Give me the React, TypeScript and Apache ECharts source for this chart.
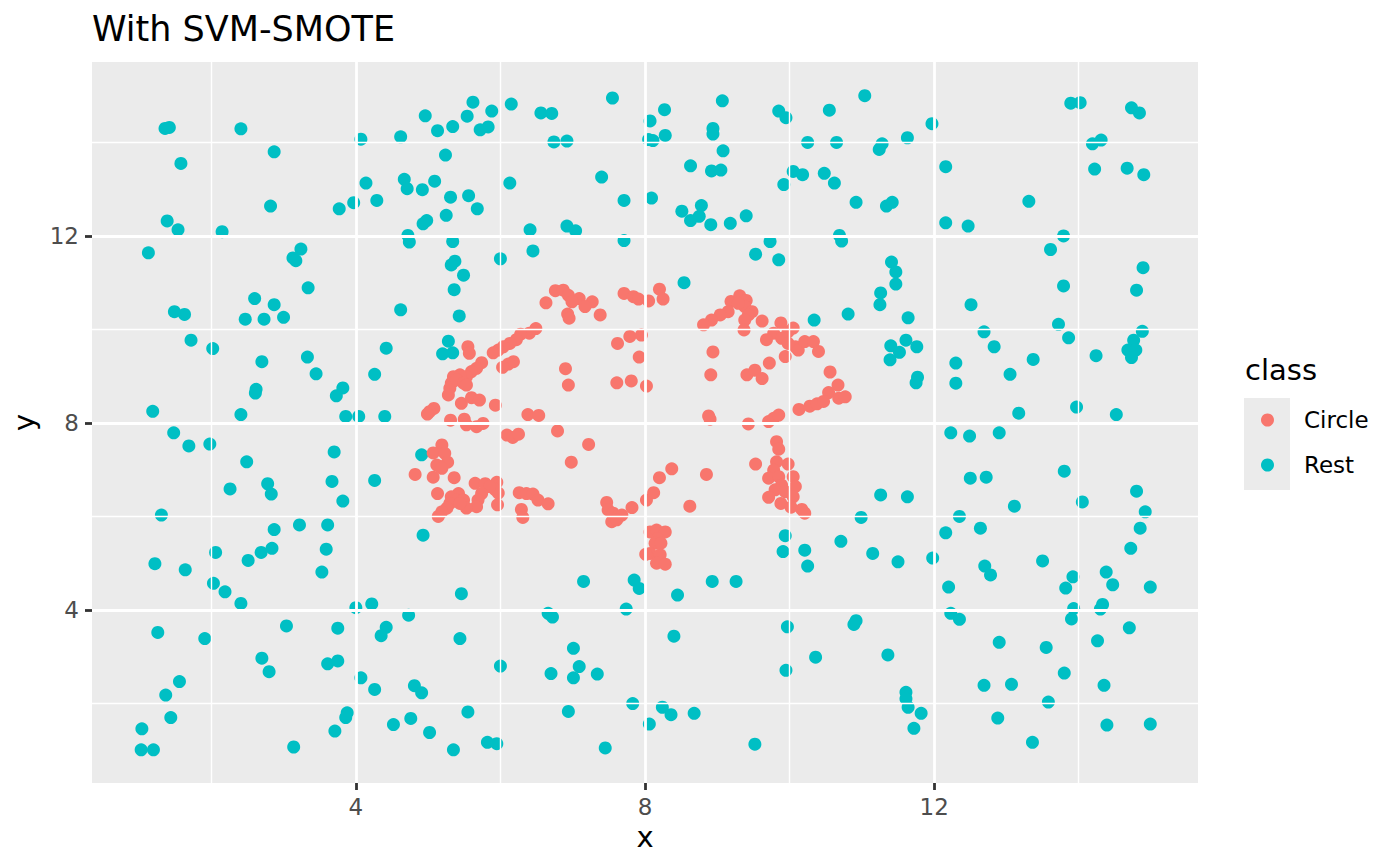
import React, { useEffect, useRef } from "react";
import * as echarts from "echarts";

const classNames = ["Circle", "Rest"];
const classColors = ["#F8766D", "#00BFC4"];
const xTicks = [4, 8, 12];
const yTicks = [4, 8, 12];
const xMinor = [2, 6, 10, 14];
const yMinor = [2, 6, 10, 14];
const xRange = [0.35, 15.65];
const yRange = [0.3, 15.72];

const circlePoints: [number, number][] = [
  [6.76,10.83],[6.87,10.84],[6.94,10.73],[7.09,10.66],[7.27,10.59],[6.63,10.57],[6.99,10.59],[7.17,10.49],[6.93,10.33],[6.95,10.24],[7.38,10.31],[7.71,10.77],[7.84,10.70],[7.91,10.65],[8.05,10.61],[8.20,10.86],[8.25,10.65],[9.19,10.60],[9.31,10.72],[9.40,10.62],[9.38,10.49],[9.48,10.38],[9.43,10.31],[9.38,10.20],[9.37,9.99],[9.15,10.38],[9.04,10.31],[8.92,10.20],[8.81,10.10],[9.29,10.56],
  [6.49,10.02],[6.40,9.92],[6.28,9.90],[6.22,9.78],[6.13,9.70],[6.04,9.63],[5.97,9.56],[5.90,9.50],[5.55,9.63],[5.57,9.49],[6.18,9.31],[6.11,9.26],[6.03,9.19],[5.74,9.29],[5.67,9.17],[5.60,9.10],[5.53,8.99],[5.44,9.03],[5.35,8.99],[5.32,8.85],[5.30,8.74],[5.28,8.60],[5.39,8.92],[5.49,8.85],[5.53,8.81],[5.46,8.42],[5.60,8.54],[5.71,8.49],[5.93,8.38],[5.08,8.31],[5.02,8.24],[4.99,8.19],[5.31,8.06],[5.50,8.08],[5.53,7.96],[5.67,7.92],[5.76,7.99],[6.38,8.18],[6.53,8.16],[6.90,9.16],[6.94,8.81],[7.62,9.70],[7.79,9.85],[7.95,9.88],[7.92,9.41],[7.61,8.86],[7.81,8.90],[8.02,8.79],[6.79,7.83],[7.22,7.54],[6.98,7.16],[6.09,7.74],[6.17,7.69],[6.25,7.76],[5.19,7.53],[5.07,7.36],[5.23,7.35],[5.27,7.16],[5.16,7.07],[5.12,7.10],[5.19,7.03],[4.82,6.90],[5.07,6.84],[5.36,6.83],[5.13,6.49],[5.65,6.71],[5.79,6.70],[5.95,6.73],[5.97,6.50],[5.92,6.58],[5.85,6.64],[5.74,6.49],[5.69,6.35],[5.67,6.21],[5.42,6.49],[5.32,6.42],[5.39,6.35],[5.30,6.28],[5.26,6.18],[5.19,6.10],[5.14,6.00],[5.49,6.35],[5.53,6.18],[5.44,6.28],[5.96,6.25],[6.26,6.51],[6.36,6.49],[6.45,6.48],[6.52,6.35],[6.66,6.27],[6.29,6.15],[6.31,5.98],[7.47,6.30],[7.49,6.14],[7.56,6.07],[7.63,6.00],[7.54,5.89],[7.68,6.03],[7.61,5.93],[7.82,6.19],[8.02,6.35],[8.07,5.67],
  [9.62,10.18],[9.88,10.14],[10.05,10.03],[9.98,9.95],[9.78,9.92],[9.68,9.78],[9.89,9.81],[9.98,9.70],[10.08,9.63],[9.94,9.42],[10.12,9.56],[10.21,9.74],[10.33,9.74],[10.40,9.53],[8.94,9.52],[8.91,9.03],[9.41,9.03],[9.52,9.13],[9.62,8.95],[9.72,9.28],[10.56,9.09],[10.67,8.81],[10.54,8.65],[10.68,8.53],[10.77,8.56],[10.13,8.29],[10.28,8.36],[10.38,8.41],[10.47,8.46],[8.88,8.15],[8.90,8.08],[9.43,7.98],[9.71,8.03],[9.78,8.10],[9.85,8.17],[9.82,7.60],[9.85,7.44],[9.53,7.12],[9.82,7.17],[9.98,7.12],[9.78,6.99],[9.71,6.82],[9.85,6.85],[10.05,6.85],[9.89,6.67],[9.80,6.57],[10.08,6.64],[9.71,6.41],[9.94,6.53],[10.05,6.42],[9.88,6.28],[10.02,6.20],[10.17,6.15],[10.21,6.07],[8.37,7.02],[8.20,6.83],[8.85,6.90],[8.12,6.51],[8.62,6.22],[8.16,5.71],[8.28,5.67],[8.18,5.53],[8.14,5.43],[8.07,5.21],[8.21,5.18],[8.16,5.00],[8.28,4.98],[8.01,5.19],[8.22,5.43]
];

const restPoints: [number, number][] = [
  [1.36,14.30],[1.42,14.32],[2.41,14.29],[4.07,14.07],[2.87,13.80],[1.58,13.55],[4.14,13.13],[2.82,12.64],[3.77,12.58],[3.97,12.71],[4.29,12.76],[1.39,12.32],[1.54,12.13],[2.15,12.09],[1.13,11.64],[3.24,11.72],[3.13,11.53],[3.17,11.47],[3.34,10.89],[2.60,10.66],[2.87,10.53],
  [5.62,14.86],[4.96,14.57],[5.88,14.67],[6.15,14.82],[5.54,14.56],[5.34,14.34],[5.13,14.25],[5.72,14.27],[5.83,14.33],[4.62,14.12],[6.56,14.63],[6.71,14.62],[7.55,14.95],[6.74,14.01],[6.92,14.03],[8.07,14.46],[8.05,14.06],[8.11,14.04],[5.24,13.73],[4.67,13.21],[4.71,13.01],[4.92,12.99],[5.09,13.17],[5.31,12.83],[5.56,12.86],[5.68,12.58],[5.25,12.44],[4.93,12.26],[4.98,12.33],[6.13,13.13],[7.40,13.26],[7.71,12.76],[8.09,12.81],[6.41,12.13],[6.92,12.21],[7.04,12.11],[7.71,11.90],[4.72,12.01],[4.74,11.87],[5.34,11.88],[6.45,11.68],[6.00,11.51],[5.37,11.46],[5.32,11.38],[5.49,11.16],[5.36,10.85],
  [8.27,14.70],[9.07,14.89],[8.28,14.15],[8.94,14.30],[8.94,14.18],[9.85,14.67],[9.95,14.53],[10.55,14.69],[11.04,15.00],[10.25,14.00],[10.65,14.00],[11.28,13.97],[11.24,13.85],[11.63,14.10],[9.08,13.82],[8.63,13.50],[8.92,13.39],[9.05,13.41],[10.05,13.38],[10.18,13.31],[10.48,13.34],[10.62,13.13],[9.92,13.10],[8.51,12.53],[8.78,12.65],[8.63,12.33],[8.75,12.42],[8.91,12.24],[9.18,12.27],[9.40,12.43],[10.92,12.72],[11.34,12.64],[11.42,12.72],[10.69,12.01],[10.72,11.89],[9.73,11.88],[9.53,11.61],[9.85,11.49],[11.41,11.44],[11.47,11.23],[11.47,10.97],[11.26,10.78],[11.25,10.53],[8.54,11.00],
  [11.97,14.40],[13.89,14.84],[14.02,14.85],[14.73,14.74],[14.84,14.63],[14.19,13.97],[14.31,14.05],[12.16,13.48],[14.22,13.43],[14.67,13.45],[14.90,13.31],[13.31,12.74],[12.16,12.28],[12.47,12.21],[13.79,12.00],[13.61,11.71],[14.89,11.32],[13.79,10.93],[14.80,10.84],[12.51,10.53],
  [1.49,10.38],[1.63,10.32],[2.47,10.22],[2.73,10.22],[3.00,10.26],[1.72,9.77],[2.02,9.59],[2.70,9.31],[3.33,9.41],[3.45,9.05],[4.26,9.04],[2.62,8.72],[2.61,8.64],[3.82,8.75],[3.73,8.58],[1.19,8.25],[2.41,8.18],[3.86,8.14],[4.04,8.14],[1.48,7.79],[1.69,7.51],[1.98,7.55],[3.70,7.38],[2.49,7.17],[2.26,6.59],[2.78,6.70],[2.83,6.48],[3.67,6.75],[4.26,6.77],[3.82,6.33],[1.31,6.03],[2.87,5.72],[3.22,5.82],[3.61,5.82],
  [4.62,10.42],[5.43,10.29],[5.28,9.75],[5.20,9.48],[5.34,9.50],[4.42,9.60],[4.40,8.14],[4.91,7.32],[4.93,5.60],
  [10.34,10.20],[10.81,10.33],[11.64,10.25],[11.40,9.65],[11.52,9.51],[11.39,9.35],[11.61,9.77],[11.76,9.63],[11.77,8.98],[11.75,8.86],[11.26,6.46],[11.63,6.42],[10.99,5.98],[9.94,5.59],
  [12.69,9.95],[12.83,9.63],[12.30,9.28],[12.30,8.85],[13.05,9.04],[13.37,9.36],[13.72,10.11],[13.86,9.82],[14.24,9.44],[14.88,9.96],[14.76,9.77],[14.68,9.56],[14.79,9.56],[14.73,9.40],[13.17,8.21],[13.97,8.34],[14.52,8.18],[12.23,7.79],[12.49,7.72],[12.90,7.79],[12.50,6.82],[12.72,6.84],[13.80,6.97],[14.80,6.54],[14.05,6.31],[13.11,6.22],[14.92,6.10],[12.35,6.00],[12.16,5.65],[12.64,5.75],[14.85,5.75],
  [1.22,4.99],[1.64,4.86],[2.06,5.23],[2.51,5.06],[2.69,5.23],[2.84,5.32],[3.59,5.30],[3.53,4.81],[2.03,4.57],[2.19,4.39],[2.41,4.14],[4.00,4.05],[4.22,4.13],[1.26,3.52],[1.91,3.39],[3.04,3.66],[3.75,3.61],[2.70,2.97],[2.80,2.68],[3.61,2.85],[3.75,2.91],[1.56,2.47],[1.37,2.18],[4.07,2.55],[4.26,2.30],[1.44,1.70],[1.04,1.46],[1.03,1.01],[1.20,1.01],[3.88,1.80],[3.86,1.70],[3.71,1.41],[3.14,1.07],
  [7.15,4.61],[7.85,4.64],[7.92,4.46],[7.74,4.02],[5.46,4.35],[4.73,3.89],[4.42,3.63],[4.35,3.45],[5.44,3.39],[6.66,3.93],[6.72,3.85],[7.01,3.18],[7.09,2.79],[6.70,2.64],[7.01,2.55],[7.34,2.63],[6.00,2.80],[4.81,2.38],[4.91,2.23],[5.55,1.82],[4.76,1.68],[4.52,1.55],[5.02,1.38],[5.35,1.01],[5.82,1.17],[5.95,1.14],[6.94,1.83],[7.83,2.00],[7.45,1.05],[8.06,1.56],
  [9.91,5.25],[10.21,5.28],[10.25,4.94],[10.71,5.47],[11.15,5.21],[11.50,5.03],[8.93,4.61],[9.26,4.61],[8.45,4.32],[8.40,3.44],[9.97,3.64],[10.92,3.77],[10.89,3.69],[10.36,2.99],[11.36,3.04],[9.95,2.71],[11.61,2.24],[11.61,2.10],[11.64,1.92],[11.82,1.79],[11.72,1.47],[8.24,1.92],[8.36,1.76],[8.68,1.79],[9.52,1.13],
  [11.98,5.11],[12.70,4.94],[12.78,4.75],[12.20,4.49],[12.23,3.93],[12.35,3.80],[13.50,5.05],[13.92,4.71],[13.82,4.47],[13.93,4.03],[13.90,3.81],[14.38,4.81],[14.47,4.54],[14.72,5.32],[14.99,4.49],[14.30,4.02],[14.33,4.12],[14.70,3.62],[14.26,3.34],[12.90,3.31],[13.55,3.20],[13.80,2.65],[14.35,2.39],[12.69,2.39],[13.07,2.41],[13.58,2.03],[12.88,1.69],[14.39,1.54],[14.99,1.56],[13.36,1.17]
];

const FONT = "DejaVu Sans";

export default function App() {
  const ref = useRef<HTMLDivElement>(null);

  useEffect(() => {
    if (!ref.current) return;
    const chart = echarts.init(ref.current, null, { renderer: "svg" });

    const gridLines: any[] = [
      ...xMinor.map((v) => ({ xAxis: v, lineStyle: { width: 1.4 } })),
      ...yMinor.map((v) => ({ yAxis: v, lineStyle: { width: 1.4 } })),
      ...xTicks.map((v) => ({ xAxis: v, lineStyle: { width: 2.8 } })),
      ...yTicks.map((v) => ({ yAxis: v, lineStyle: { width: 2.8 } })),
    ];

    chart.setOption({
      animation: false,
      textStyle: { fontFamily: FONT },
      title: {
        text: "With SVM-SMOTE",
        left: 92,
        top: 11,
        padding: 0,
        textStyle: { fontSize: 35, fontWeight: "normal", color: "#000000", fontFamily: FONT },
      },
      grid: {
        left: 92,
        right: 202,
        top: 62,
        bottom: 83,
        show: true,
        backgroundColor: "#EBEBEB",
        borderWidth: 0,
        containLabel: false,
      },
      xAxis: {
        type: "value",
        min: xRange[0],
        max: xRange[1],
        splitLine: { show: false },
        axisLine: { show: false },
        axisTick: {
          show: true,
          customValues: xTicks,
          length: 7,
          lineStyle: { color: "#333333", width: 2.8 },
        },
        axisLabel: {
          customValues: xTicks,
          color: "#4D4D4D",
          fontSize: 23,
          margin: 12,
          fontFamily: FONT,
        },
        name: "x",
        nameLocation: "middle",
        nameGap: 35,
        nameTextStyle: { fontSize: 29, color: "#000000", fontFamily: FONT },
      },
      yAxis: {
        type: "value",
        min: yRange[0],
        max: yRange[1],
        splitLine: { show: false },
        axisLine: { show: false },
        axisTick: {
          show: true,
          customValues: yTicks,
          length: 7,
          lineStyle: { color: "#333333", width: 2.8 },
        },
        axisLabel: {
          customValues: yTicks,
          color: "#4D4D4D",
          fontSize: 23,
          margin: 13,
          fontFamily: FONT,
        },
        name: "y",
        nameLocation: "middle",
        nameGap: 50,
        nameTextStyle: { fontSize: 29, color: "#000000", fontFamily: FONT },
      },
      legend: {
        data: classNames,
        orient: "vertical",
        left: 1261,
        top: 408,
        padding: 0,
        itemWidth: 13,
        itemHeight: 13,
        itemGap: 21,
        icon: "circle",
        selectedMode: false,
        textStyle: {
          fontSize: 23,
          color: "#000000",
          fontFamily: FONT,
          lineHeight: 24,
          padding: [0, 0, 0, 25],
        },
      },
      graphic: [
        {
          type: "rect",
          left: 1244,
          top: 398,
          silent: true,
          shape: { width: 46, height: 92 },
          style: { fill: "#EBEBEB" },
        },
        {
          type: "text",
          left: 1245,
          top: 355,
          silent: true,
          style: { text: "class", fontSize: 29, fill: "#000000", fontFamily: FONT },
        },
      ],
      series: [
        {
          type: "scatter",
          name: "gridlines",
          data: [],
          z: 1,
          silent: true,
          markLine: {
            silent: true,
            animation: false,
            symbol: ["none", "none"],
            label: { show: false },
            lineStyle: { color: "#FFFFFF", type: "solid" },
            emphasis: { disabled: true },
            data: gridLines,
          },
        },
        {
          type: "scatter",
          name: classNames[1],
          data: restPoints,
          symbolSize: 13,
          z: 3,
          itemStyle: { color: classColors[1], opacity: 1 },
        },
        {
          type: "scatter",
          name: classNames[0],
          data: circlePoints,
          symbolSize: 13,
          z: 3,
          itemStyle: { color: classColors[0], opacity: 1 },
        },
      ],
    });

    return () => chart.dispose();
  }, []);

  return (
    <div
      ref={ref}
      style={{ position: "fixed", left: 0, top: 0, width: 1400, height: 866, background: "#FFFFFF" }}
    />
  );
}
